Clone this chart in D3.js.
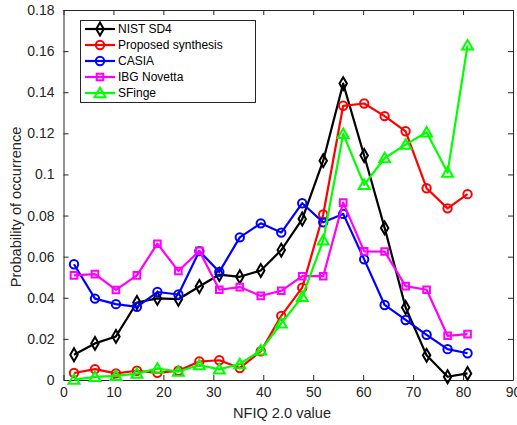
<!DOCTYPE html>
<html>
<head>
<meta charset="utf-8">
<script src="https://cdn.jsdelivr.net/npm/d3@7"></script>
<style>
  body { margin: 0; background: #fff; }
  svg { font-family: "Liberation Sans", Arial, Helvetica, sans-serif; }
  .axis path, .axis line { stroke: #262626; }
  .axis text { fill: #262626; font-size: 14px; }
</style>
</head>
<body>
<svg width="517" height="425"></svg>
<script>
// NFIQ 2.0 bin centres
var nfiq = [2.1, 6.3, 10.5, 14.7, 18.8, 23.0, 27.2, 31.2, 35.3, 39.5,
            43.6, 47.8, 52.0, 56.0, 60.2, 64.3, 68.5, 72.7, 76.9, 80.9];

var nistSD4 = [0.0123, 0.0178, 0.0212, 0.0377, 0.0397, 0.0393, 0.0455, 0.0513, 0.0502, 0.0533,
               0.0632, 0.0783, 0.1067, 0.1442, 0.1092, 0.0740, 0.0353, 0.0120, 0.0016, 0.0032];
var proposed = [0.0034, 0.0053, 0.0032, 0.0045, 0.0035, 0.0045, 0.0090, 0.0096, 0.0058, 0.0140,
                0.0312, 0.0449, 0.0805, 0.1334, 0.1345, 0.1284, 0.1210, 0.0933, 0.0835, 0.0904];
var casia = [0.0563, 0.0396, 0.0369, 0.0356, 0.0428, 0.0416, 0.0627, 0.0526, 0.0694, 0.0762,
             0.0717, 0.0860, 0.0767, 0.0808, 0.0587, 0.0365, 0.0292, 0.0220, 0.0150, 0.0130];
var ibgNovetta = [0.0509, 0.0515, 0.0438, 0.0509, 0.0663, 0.0530, 0.0628, 0.0439, 0.0452, 0.0409,
                  0.0434, 0.0505, 0.0505, 0.0863, 0.0626, 0.0625, 0.0457, 0.0439, 0.0215, 0.0223];
var sfinge = [0.0002, 0.0015, 0.0020, 0.0031, 0.0056, 0.0041, 0.0073, 0.0052, 0.0078, 0.0144,
              0.0276, 0.0405, 0.0679, 0.1197, 0.0949, 0.1080, 0.1145, 0.1205, 0.1009, 0.1628];

var seriesNames = ["NIST SD4", "Proposed synthesis", "CASIA", "IBG Novetta", "SFinge"];
var xTicks = [0, 10, 20, 30, 40, 50, 60, 70, 80, 90];
var yTicks = [0, 0.02, 0.04, 0.06, 0.08, 0.1, 0.12, 0.14, 0.16, 0.18];

var series = [
  {name: seriesNames[0], values: nistSD4, color: "#000000", marker: "diamond"},
  {name: seriesNames[1], values: proposed, color: "#ff0000", marker: "circle"},
  {name: seriesNames[2], values: casia, color: "#0000ff", marker: "circle"},
  {name: seriesNames[3], values: ibgNovetta, color: "#ff00ff", marker: "square"},
  {name: seriesNames[4], values: sfinge, color: "#00ff00", marker: "triangle"}
];

var margin = {left: 63.5, right: 4, top: 10, bottom: 45};
var width = 517, height = 425;

var x = d3.scaleLinear().domain([0, 90]).range([margin.left, width - margin.right]);
var y = d3.scaleLinear().domain([0, 0.18]).range([height - margin.bottom, margin.top]);

var svg = d3.select("svg");

function fmt(v) { return String(+v.toFixed(2)); }

// axes, ticks pointing inward on all four sides
svg.append("g").attr("class", "axis")
  .attr("transform", "translate(0," + y(0) + ")")
  .call(d3.axisBottom(x).tickValues(xTicks).tickSizeInner(-5).tickSizeOuter(0).tickPadding(7));
svg.append("g").attr("class", "axis")
  .attr("transform", "translate(0," + y(0.18) + ")")
  .call(d3.axisTop(x).tickValues(xTicks).tickSizeInner(-5).tickSizeOuter(0).tickFormat(""));
svg.append("g").attr("class", "axis")
  .attr("transform", "translate(" + x(0) + ",0)")
  .call(d3.axisLeft(y).tickValues(yTicks).tickSizeInner(-5).tickSizeOuter(0).tickPadding(9).tickFormat(fmt));
svg.append("g").attr("class", "axis")
  .attr("transform", "translate(" + x(90) + ",0)")
  .call(d3.axisRight(y).tickValues(yTicks).tickSizeInner(-5).tickSizeOuter(0).tickFormat(""));

// markers
var symbols = {
  circle: d3.symbol().type(d3.symbolCircle).size(55),
  diamond: d3.symbol().type(d3.symbolDiamond).size(48),
  square: d3.symbol().type(d3.symbolSquare).size(44),
  triangle: d3.symbol().type(d3.symbolTriangle).size(52)
};

var line = d3.line()
  .x(function (d) { return x(d.x); })
  .y(function (d) { return y(d.y); });

series.forEach(function (s) {
  var pts = nfiq.map(function (v, i) { return {x: v, y: s.values[i]}; });
  var g = svg.append("g");
  g.append("path")
    .attr("d", line(pts))
    .attr("fill", "none")
    .attr("stroke", s.color)
    .attr("stroke-width", 2.2)
    .attr("stroke-linejoin", "round");
  g.selectAll("path.mk")
    .data(pts)
    .enter()
    .append("path")
    .attr("class", "mk")
    .attr("d", symbols[s.marker])
    .attr("transform", function (d) {
      var dy = s.marker === "triangle" ? 1 : 0;
      return "translate(" + x(d.x) + "," + (y(d.y) + dy) + ")";
    })
    .attr("fill", "none")
    .attr("stroke", s.color)
    .attr("stroke-width", 2);
});

// legend
var leg = svg.append("g");
leg.append("rect")
  .attr("x", 80.5).attr("y", 20.5)
  .attr("width", 175).attr("height", 82)
  .attr("fill", "#fff")
  .attr("stroke", "#262626")
  .attr("stroke-width", 1);

series.forEach(function (s, i) {
  var ly = 29 + i * 16;
  leg.append("line")
    .attr("x1", 85).attr("x2", 115)
    .attr("y1", ly).attr("y2", ly)
    .attr("stroke", s.color)
    .attr("stroke-width", 2.2);
  leg.append("path")
    .attr("d", symbols[s.marker])
    .attr("transform", "translate(100," + (ly + (s.marker === "triangle" ? 1 : 0)) + ")")
    .attr("fill", "none")
    .attr("stroke", s.color)
    .attr("stroke-width", 2);
  leg.append("text")
    .attr("x", 118)
    .attr("y", ly)
    .attr("dy", "0.35em")
    .style("font-size", "12px")
    .attr("fill", "#000")
    .text(s.name);
});

// axis labels
svg.append("text")
  .attr("x", 282)
  .attr("y", 418)
  .attr("text-anchor", "middle")
  .attr("fill", "#262626")
  .style("font-size", "14.6px")
  .text("NFIQ 2.0 value");

svg.append("text")
  .attr("transform", "translate(21,207) rotate(-90)")
  .attr("text-anchor", "middle")
  .attr("fill", "#262626")
  .style("font-size", "14.6px")
  .text("Probability of occurrence");
</script>
</body>
</html>
